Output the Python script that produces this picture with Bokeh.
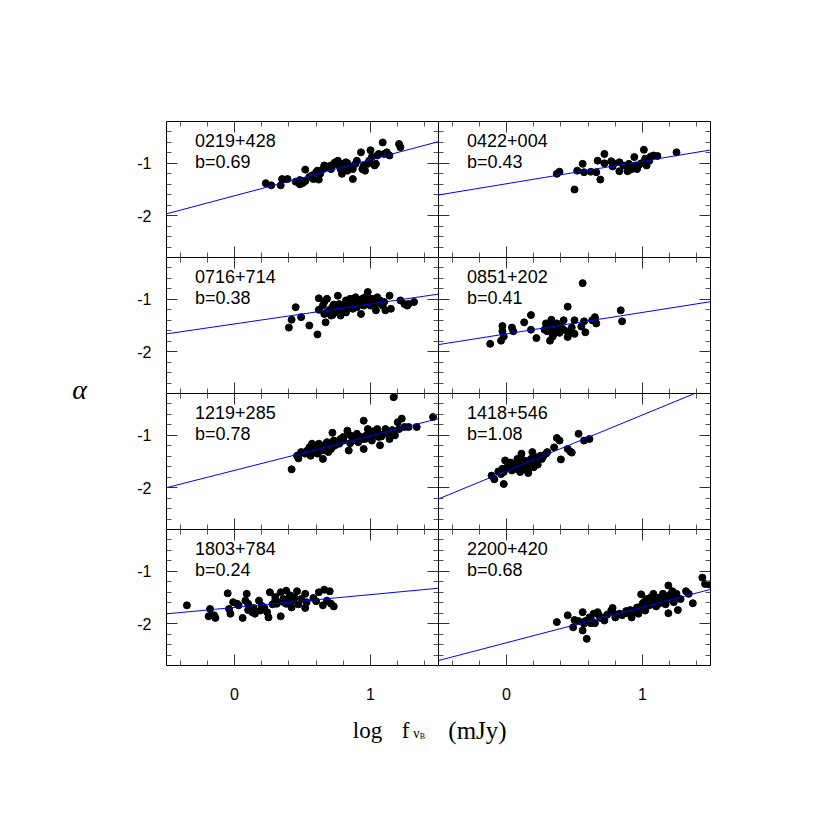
from bokeh.plotting import figure
from bokeh.layouts import row, column
from bokeh.models import Range1d, FixedTicker, LinearAxis, Slope, Label
from bokeh.embed import file_html
from bokeh.resources import INLINE
from bokeh.core.properties import value

# ---------------- data ----------------
names = ["0219+428", "0422+004", "0716+714", "0851+202",
         "1219+285", "1418+546", "1803+784", "2200+420"]
b_labels = ["b=0.69", "b=0.43", "b=0.38", "b=0.41",
            "b=0.78", "b=1.08", "b=0.24", "b=0.68"]
fit_intercept = [-1.62, -1.39, -1.47, -1.66, -1.67, -1.68, -1.69, -2.365]
fit_slope = [0.69, 0.43, 0.38, 0.41, 0.66, 1.07, 0.245, 0.68]

x_0219 = [0.23, 0.27, 0.34, 0.35, 0.39, 0.48, 0.50, 0.52, 0.52, 0.55, 0.57, 0.58, 0.60, 0.61, 0.62,
          0.63, 0.65, 0.66, 0.67, 0.71, 0.72, 0.73, 0.74, 0.76, 0.77, 0.78, 0.79, 0.80, 0.82, 0.83,
          0.84, 0.85, 0.87, 0.87, 0.89, 0.90, 0.93, 0.94, 0.95, 0.96, 0.98, 0.99, 1.00, 1.01, 1.03,
          1.04, 1.05, 1.06, 1.09, 1.10, 1.12, 1.14, 1.21, 1.22,
          0.78, 0.80, 0.83, 0.70, 0.62, 0.48, 0.45]
y_0219 = [-1.38, -1.42, -1.42, -1.30, -1.30, -1.40, -1.38, -1.34, -1.12, -1.26, -1.23, -1.30, -1.17, -1.14, -1.31,
          -1.20, -1.11, -1.04, -1.07, -1.11, -1.04, -1.01, -0.98, -0.95, -1.04, -1.11, -1.20, -1.01, -0.98, -1.14,
          -1.04, -1.07, -1.30, -1.11, -1.01, -0.95, -0.79, -1.11, -1.04, -1.14, -1.01, -0.95, -0.75, -0.88, -1.04,
          -1.01, -0.85, -0.82, -0.60, -0.82, -0.79, -0.85, -0.63, -0.69,
          -1.05, -1.08, -1.00, -1.05, -1.18, -1.32, -1.35]

x_0422 = [0.37, 0.39, 0.50, 0.52, 0.56, 0.57, 0.62, 0.66, 0.67, 0.69, 0.72, 0.72, 0.77, 0.78, 0.83,
          0.83, 0.86, 0.89, 0.90, 0.92, 0.94, 0.95, 0.96, 0.99, 1.01, 1.02, 1.03, 1.05, 1.06, 1.08,
          1.11, 1.25, 0.91, 0.94, 0.97, 0.79]
y_0422 = [-1.20, -1.16, -1.50, -1.14, -1.01, -1.17, -1.16, -1.17, -0.95, -1.31, -0.82, -1.00, -0.96, -1.06, -0.98,
          -1.15, -1.04, -1.15, -1.01, -1.11, -0.88, -1.04, -1.11, -1.00, -0.74, -0.91, -1.04, -0.95, -0.87, -0.85,
          -0.86, -0.79, -1.12, -1.07, -1.04, -1.00]

x_0716 = [0.40, 0.42, 0.45, 0.49, 0.55, 0.61, 0.62, 0.65, 0.66, 0.67, 0.68, 0.71, 0.72, 0.74, 0.76,
          0.77, 0.78, 0.79, 0.82, 0.83, 0.84, 0.85, 0.87, 0.88, 0.89, 0.90, 0.91, 0.93, 0.94, 0.95,
          0.96, 0.98, 0.99, 1.00, 1.01, 1.03, 1.04, 1.05, 1.07, 1.09, 1.10, 1.11, 1.14, 1.15, 1.22,
          1.25, 1.27, 1.28, 1.32,
          0.70, 0.73, 0.76, 0.80, 0.83, 0.86, 0.88, 0.92, 0.95, 0.97, 1.00, 1.03, 1.06, 0.68, 0.72,
          0.62, 0.66, 0.78, 0.82, 0.90]
y_0716 = [-1.54, -1.39, -1.15, -1.34, -1.50, -1.67, -0.98, -1.12, -1.28, -1.44, -0.99, -1.31, -1.15, -1.25, -0.93,
          -1.09, -1.31, -1.18, -1.02, -1.15, -1.09, -0.99, -1.18, -1.05, -0.96, -1.12, -1.02, -1.28, -0.99, -1.12,
          -0.96, -0.86, -1.05, -1.12, -0.99, -1.09, -1.21, -0.96, -1.02, -1.12, -1.05, -1.21, -0.93, -1.18, -1.02,
          -1.09, -1.12, -1.09, -1.05,
          -1.20, -1.10, -1.15, -1.10, -1.05, -1.10, -1.00, -1.08, -1.00, -1.05, -1.00, -1.02, -1.07, -1.25, -1.30,
          -1.20, -1.05, -1.20, -1.25, -1.15]

x_0851 = [-0.12, -0.04, -0.03, -0.03, -0.02, 0.04, 0.05, 0.13, 0.18, 0.18, 0.22, 0.29, 0.30, 0.32, 0.33,
          0.34, 0.34, 0.36, 0.37, 0.39, 0.42, 0.42, 0.45, 0.45, 0.48, 0.50, 0.50, 0.55, 0.56, 0.57,
          0.58, 0.63, 0.65, 0.66, 0.84, 0.85,
          0.38, 0.32, 0.45, 0.35, 0.40, 0.28, 0.65]
y_0851 = [-1.85, -1.79, -1.61, -1.51, -1.71, -1.54, -1.61, -1.44, -1.58, -1.30, -1.74, -1.46, -1.61, -1.79, -1.39,
          -1.53, -1.71, -1.60, -1.46, -1.64, -1.58, -1.40, -1.14, -1.72, -1.54, -1.40, -1.66, -1.52, -0.69, -1.42,
          -1.63, -1.40, -1.34, -1.46, -1.21, -1.42,
          -1.55, -1.50, -1.62, -1.65, -1.52, -1.58, -1.38]

x_1219 = [0.42, 0.46, 0.47, 0.49, 0.52, 0.55, 0.56, 0.57, 0.58, 0.60, 0.61, 0.62, 0.63, 0.65, 0.66,
          0.67, 0.68, 0.69, 0.71, 0.72, 0.73, 0.74, 0.77, 0.78, 0.80, 0.83, 0.84, 0.85, 0.87, 0.89,
          0.90, 0.91, 0.93, 0.95, 0.95, 0.96, 0.98, 0.99, 1.01, 1.03, 1.05, 1.06, 1.07, 1.10, 1.11,
          1.14, 1.15, 1.17, 1.18, 1.20, 1.21, 1.23, 1.25, 1.28, 1.34, 1.46,
          0.60, 0.65, 0.70, 0.75, 0.80, 0.88, 0.93, 1.00, 1.05, 1.12, 1.16, 0.53, 0.58, 0.63, 0.72,
          0.85, 0.97, 1.02, 1.08]
y_1219 = [-1.65, -1.39, -1.44, -1.32, -1.35, -1.23, -1.39, -1.16, -1.29, -1.23, -1.35, -1.16, -1.26, -1.45, -1.19,
          -1.29, -1.13, -1.32, -1.26, -0.95, -1.10, -1.19, -1.16, -1.07, -1.03, -0.91, -1.29, -1.00, -1.10, -1.07,
          -0.97, -1.13, -1.03, -0.72, -1.26, -1.07, -0.88, -0.97, -1.10, -1.00, -0.88, -1.03, -1.19, -0.97, -0.88,
          -1.07, -0.94, -0.27, -1.00, -0.75, -0.88, -0.68, -0.84, -0.84, -0.84, -0.65,
          -1.20, -1.25, -1.20, -1.12, -1.10, -1.05, -1.08, -1.00, -0.95, -0.96, -0.90, -1.30, -1.33, -1.30, -1.22,
          -1.15, -1.00, -0.92, -1.02]

x_1418 = [-0.11, -0.09, -0.06, -0.04, -0.03, -0.02, -0.01, 0.01, 0.03, 0.04, 0.05, 0.07, 0.08, 0.10, 0.11,
          0.12, 0.13, 0.15, 0.16, 0.16, 0.18, 0.19, 0.20, 0.21, 0.23, 0.25, 0.26, 0.29, 0.30, 0.35,
          0.37, 0.39, 0.40, 0.45, 0.47, 0.48, 0.53, 0.57, 0.61,
          0.00, 0.03, 0.06, 0.09, 0.12, 0.15, 0.18, 0.22, 0.24, 0.27, 0.10, 0.17, -0.02, 0.20, 0.08]
y_1418 = [-1.77, -1.84, -1.69, -1.74, -1.64, -1.93, -1.48, -1.61, -1.56, -1.67, -1.58, -1.64, -1.51, -1.61, -1.35,
          -1.58, -1.48, -1.67, -1.72, -1.55, -1.45, -1.32, -1.61, -1.48, -1.56, -1.39, -1.45, -1.35, -1.32, -1.23,
          -1.05, -1.10, -1.46, -1.26, -1.31, -1.33, -0.97, -1.10, -1.07,
          -1.62, -1.52, -1.55, -1.60, -1.52, -1.50, -1.52, -1.42, -1.45, -1.40, -1.70, -1.62, -1.70, -1.55, -1.45]

x_1803 = [-0.35, -0.19, -0.18, -0.15, -0.14, -0.05, -0.04, -0.03, -0.01, 0.02, 0.03, 0.06, 0.08, 0.09, 0.10,
          0.11, 0.13, 0.14, 0.15, 0.18, 0.19, 0.22, 0.24, 0.25, 0.26, 0.28, 0.30, 0.31, 0.34, 0.34,
          0.36, 0.38, 0.39, 0.41, 0.42, 0.43, 0.46, 0.47, 0.49, 0.52, 0.52, 0.53, 0.58, 0.60, 0.62,
          0.65, 0.66, 0.68, 0.70, 0.71, 0.73,
          0.40, 0.38, 0.30, 0.20, 0.10, 0.44, 0.35]
y_1803 = [-1.65, -1.86, -1.72, -1.84, -1.89, -1.42, -1.72, -1.81, -1.59, -1.62, -1.65, -1.89, -1.56, -1.43, -1.74,
          -1.69, -1.78, -1.70, -1.81, -1.56, -1.75, -1.70, -1.78, -1.88, -1.40, -1.63, -1.49, -1.62, -1.86, -1.40,
          -1.53, -1.37, -1.59, -1.46, -1.69, -1.56, -1.38, -1.63, -1.53, -1.43, -1.70, -1.59, -1.51, -1.57, -1.40,
          -1.65, -1.35, -1.56, -1.38, -1.62, -1.67,
          -1.52, -1.62, -1.55, -1.66, -1.62, -1.50, -1.58]

x_2200 = [0.37, 0.45, 0.49, 0.50, 0.53, 0.56, 0.56, 0.57, 0.59, 0.61, 0.62, 0.64, 0.65, 0.67, 0.69,
          0.72, 0.74, 0.77, 0.78, 0.80, 0.83, 0.85, 0.88, 0.91, 0.92, 0.94, 0.96, 0.97, 0.99, 1.00,
          1.01, 1.02, 1.03, 1.05, 1.06, 1.07, 1.08, 1.10, 1.11, 1.12, 1.13, 1.15, 1.16, 1.17, 1.19,
          1.19, 1.21, 1.22, 1.23, 1.25, 1.26, 1.28, 1.32, 1.34, 1.37, 1.44, 1.46, 1.49,
          1.00, 1.05, 1.10, 1.15, 1.20, 0.95, 0.88, 0.80, 0.70, 0.62, 0.68, 1.12, 1.18, 1.25, 0.58]
y_2200 = [-1.97, -1.84, -2.07, -1.93, -1.95, -1.78, -2.13, -2.00, -2.29, -1.88, -1.99, -1.81, -1.99, -1.78, -1.88,
          -1.94, -1.83, -1.75, -1.70, -1.88, -1.81, -1.84, -1.76, -1.74, -1.88, -1.78, -1.69, -1.81, -1.44, -1.72,
          -1.59, -1.75, -1.53, -1.65, -1.50, -1.59, -1.43, -1.67, -1.53, -1.59, -1.50, -1.43, -1.56, -1.63, -1.80,
          -1.27, -1.50, -1.38, -1.59, -1.43, -1.74, -1.53, -1.38, -1.43, -1.61, -1.12, -1.24, -1.25,
          -1.62, -1.58, -1.50, -1.52, -1.45, -1.75, -1.80, -1.82, -1.90, -1.92, -1.84, -1.62, -1.55, -1.50, -1.95]

panel_x = [x_0219, x_0422, x_0716, x_0851, x_1219, x_1418, x_1803, x_2200]
panel_y = [y_0219, y_0422, y_0716, y_0851, y_1219, y_1418, y_1803, y_2200]

x_range = (-0.5, 1.5)
y_range = (-2.8, -0.2)
x_major = [0, 1]
x_minor = [-0.4, -0.2, 0.2, 0.4, 0.6, 0.8, 1.2, 1.4]
y_major = [-2, -1]
y_minor = [-2.6, -2.4, -2.2, -1.8, -1.6, -1.4, -1.2, -0.8, -0.6, -0.4]
x_tick_labels = {0: "0", 1: "1"}
y_tick_labels = {-1: "-1", -2: "-2"}

# ---------------- layout constants ----------------
FW, FH = 272, 136
LB, RB, TB, BB = 58, 100, 121, 45
YW = 108

def make_axis(ticks, minor, labels, show, line):
    ax = LinearAxis(ticker=FixedTicker(ticks=ticks, minor_ticks=minor))
    ax.major_tick_in = 11
    ax.major_tick_out = 0
    ax.minor_tick_in = 5
    ax.minor_tick_out = 0
    ax.axis_line_color = "black" if line else None
    ax.major_tick_line_color = "#333333"
    ax.minor_tick_line_color = "#555555"
    if show:
        ax.major_label_overrides = labels
        ax.major_label_text_font = "Liberation Sans"
        ax.major_label_text_font_size = "16px"
        ax.major_label_text_color = "black"
    else:
        ax.major_label_text_font_size = "1px"
        ax.major_label_text_color = None
        ax.major_label_standoff = 0
    return ax

figs = []
for i in range(8):
    r, c = divmod(i, 2)
    left, top, bottom = c == 0, r == 0, r == 3
    mbl = LB if left else 0
    mbr = 0 if left else RB
    mbt = TB if top else 0
    mbb = BB if bottom else 0
    p = figure(width=FW + mbl + mbr, height=FH + mbt + mbb,
               x_range=Range1d(*x_range), y_range=Range1d(*y_range),
               x_axis_location=None, y_axis_location=None,
               min_border_left=mbl, min_border_right=mbr,
               min_border_top=mbt, min_border_bottom=mbb,
               output_backend="svg", toolbar_location=None,
               background_fill_color="white", border_fill_color="white")
    p.grid.visible = False
    p.outline_line_color = None
    # frame lines: drawn by the axes that sit inside the canvas
    bax = make_axis(x_major, x_minor, x_tick_labels, bottom, bottom)
    if bottom:
        bax.major_label_standoff = 22
    p.add_layout(bax, "below")
    p.add_layout(make_axis(x_major, x_minor, x_tick_labels, False, True), "above")
    lax = make_axis(y_major, y_minor, y_tick_labels, left, True)
    if left:
        lax.major_label_standoff = 15
    p.add_layout(lax, "left")
    p.add_layout(make_axis(y_major, y_minor, y_tick_labels, False, not left), "right")

    p.add_layout(Slope(gradient=fit_slope[i], y_intercept=fit_intercept[i],
                       line_color="#0000ff", line_width=1))
    p.scatter(panel_x[i], panel_y[i], size=7, color="black")
    p.add_layout(Label(x=-0.29, y=-0.43, text=names[i], text_baseline="top",
                       text_font="Liberation Sans", text_font_size="18px", text_color="black"))
    p.add_layout(Label(x=-0.29, y=-0.78, text=b_labels[i], text_baseline="top",
                       text_font="Liberation Sans", text_font_size="18px", text_color="black"))
    figs.append(p)

grid = column(row(figs[0], figs[1]), row(figs[2], figs[3]),
              row(figs[4], figs[5]), row(figs[6], figs[7]))
GH = FH * 4 + TB + BB
GW = YW + FW * 2 + LB + RB

def blank(w, h):
    f = figure(width=w, height=h, x_range=Range1d(0, w), y_range=Range1d(0, h),
               x_axis_location=None, y_axis_location=None, min_border=0,
               output_backend="svg", toolbar_location=None,
               background_fill_color="white", border_fill_color="white")
    f.outline_line_color = None
    f.grid.visible = False
    return f

yfig = blank(YW, GH)
yfig.text(x=[79], y=[GH - 389], text=["α"], text_align="center", text_baseline="middle",
          text_font=value("Liberation Serif"), text_font_style="italic",
          text_font_size="28px", text_color="black")

XH = 60
xfig = blank(GW, XH)
serif = value("Liberation Serif")
xfig.text(x=[367], y=[XH - 20], text=["log"], text_align="center", text_baseline="alphabetic",
          text_font=serif, text_font_size="23px", text_color="black")
xfig.text(x=[405], y=[XH - 20], text=["f"], text_align="center", text_baseline="alphabetic",
          text_font=serif, text_font_size="23px", text_color="black")
xfig.text(x=[416], y=[XH - 23], text=["ν"], text_align="center", text_baseline="alphabetic",
          text_font=serif, text_font_size="14px", text_color="black")
xfig.text(x=[422], y=[XH - 26], text=["B"], text_align="center", text_baseline="alphabetic",
          text_font=serif, text_font_size="8px", text_color="black")
xfig.text(x=[477], y=[XH - 20], text=["(mJy)"], text_align="center", text_baseline="alphabetic",
          text_font=serif, text_font_size="25px", text_color="black")

layout = column(row(yfig, grid), xfig)

open("out.html", "w").write(file_html(layout, INLINE))
